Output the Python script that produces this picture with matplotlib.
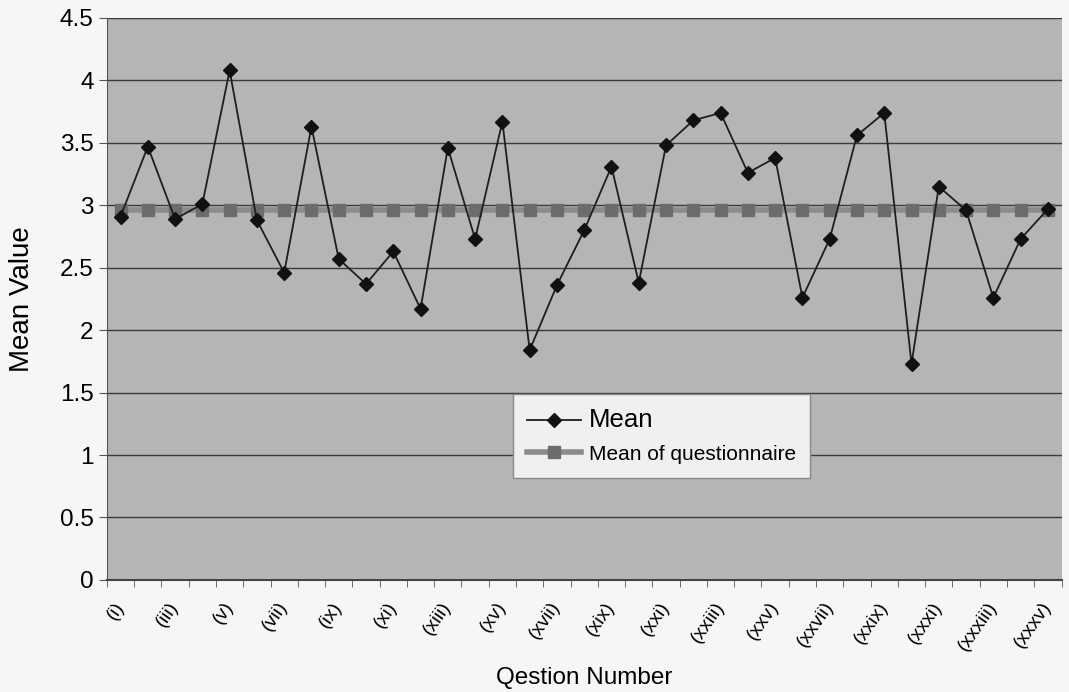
import matplotlib
matplotlib.use("Agg")
import matplotlib.pyplot as plt
import matplotlib.transforms as mtransforms
import numpy as np

plt.rcParams['font.family'] = ['Liberation Sans', 'DejaVu Sans']

# question labels (i)..(xxxv)
questions = ['(i)', '(ii)', '(iii)', '(iv)', '(v)', '(vi)', '(vii)', '(viii)', '(ix)', '(x)',
             '(xi)', '(xii)', '(xiii)', '(xiv)', '(xv)', '(xvi)', '(xvii)', '(xviii)', '(xix)', '(xx)',
             '(xxi)', '(xxii)', '(xxiii)', '(xxiv)', '(xxv)', '(xxvi)', '(xxvii)', '(xxviii)', '(xxix)', '(xxx)',
             '(xxxi)', '(xxxii)', '(xxxiii)', '(xxxiv)', '(xxxv)']

mean_vals = [2.91, 3.47, 2.89, 3.01, 4.08, 2.88, 2.46, 3.63, 2.57, 2.37,
             2.63, 2.17, 3.46, 2.73, 3.67, 1.84, 2.36, 2.80, 3.31, 2.38,
             3.48, 3.68, 3.74, 3.26, 3.38, 2.26, 2.73, 3.56, 3.74, 1.73,
             3.15, 2.96, 2.26, 2.73, 2.97]

questionnaire_mean = [2.96] * len(questions)

fig = plt.figure(figsize=(10.69, 6.92), dpi=100)
fig.patch.set_facecolor('#f6f6f6')
ax = fig.add_axes([0.100, 0.162, 0.893, 0.812])
ax.set_facecolor('#b5b5b5')

x = np.arange(len(questions))

ax.plot(x, questionnaire_mean, color='#8c8c8c', linewidth=4, marker='s', markersize=8,
        markerfacecolor='#6c6c6c', markeredgecolor='#6c6c6c', label='Mean of questionnaire', zorder=3)
ax.plot(x, mean_vals, color='#1e1e1e', linewidth=1.3, marker='D', markersize=7,
        markerfacecolor='#111111', markeredgecolor='#111111', label='Mean', zorder=4)

ax.set_xlim(-0.5, len(questions) - 0.5)
ax.set_ylim(0, 4.5)
ax.set_yticks(np.arange(0, 4.51, 0.5))
ax.set_yticklabels(['0', '0.5', '1', '1.5', '2', '2.5', '3', '3.5', '4', '4.5'])
ax.yaxis.grid(True, color='#3a3a3a', linewidth=1.0)
ax.set_axisbelow(True)

ax.set_xticks(x[::2])
ax.set_xticklabels(questions[::2], rotation=55, fontsize=14, ha='right', va='center',
                   rotation_mode='anchor')
# nudge labels a little left of their ticks, like the original
shift = mtransforms.ScaledTranslation(-12 / 100, 0, fig.dpi_scale_trans)
for lbl in ax.get_xticklabels():
    lbl.set_transform(lbl.get_transform() + shift)
ax.set_xticks(np.arange(-0.5, len(questions), 1), minor=True)
ax.tick_params(axis='x', which='major', length=0, pad=17)
ax.tick_params(axis='x', which='minor', length=5, color='#555555')
ax.tick_params(axis='y', labelsize=17.5, length=6, color='#555555')

for side in ['top', 'right']:
    ax.spines[side].set_visible(False)
ax.spines['left'].set_color('#555555')
ax.spines['bottom'].set_color('#444444')
ax.spines['bottom'].set_linewidth(1.5)

ax.set_xlabel('Qestion Number', fontsize=17.5)
ax.xaxis.set_label_coords(0.5, -0.174)
ax.xaxis.label.set_va('center')
ax.set_ylabel('Mean Value', fontsize=20)
ax.yaxis.set_label_coords(-0.089, 0.5)
ax.yaxis.label.set_va('center')

handles, labels = ax.get_legend_handles_labels()
leg = ax.legend(handles[::-1], labels[::-1], loc='lower left', bbox_to_anchor=(0.425, 0.181),
                frameon=True, fancybox=False, fontsize=15, handlelength=2.6, handletextpad=0.35,
                borderpad=0.7, labelspacing=0.6, borderaxespad=0)
leg.get_frame().set_facecolor('#f0f0f0')
leg.get_frame().set_edgecolor('#888888')
leg.get_frame().set_alpha(1)
leg.get_texts()[0].set_fontsize(18.5)

fig.savefig('out.png', dpi=100, facecolor=fig.get_facecolor())
